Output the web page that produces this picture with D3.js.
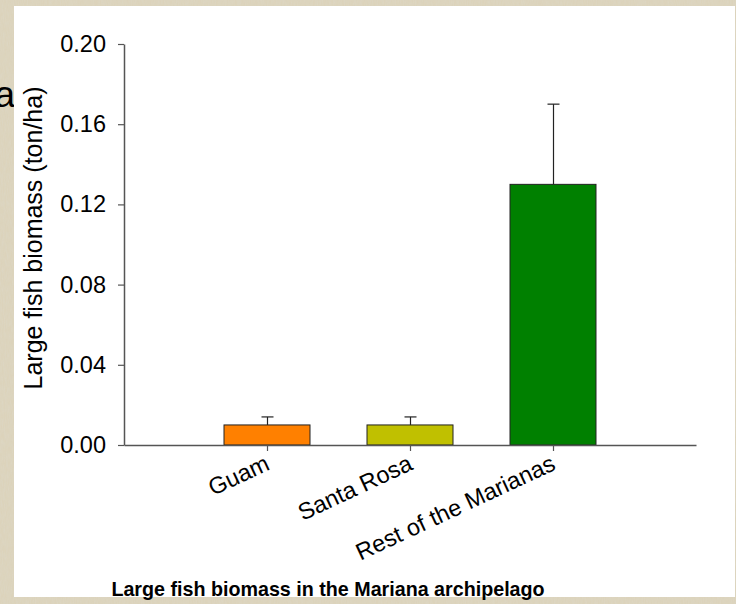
<!DOCTYPE html>
<html>
<head>
<meta charset="utf-8">
<script src="https://cdn.jsdelivr.net/npm/d3@7"></script>
<style>
  body { margin: 0; background: #d6ccb2; }
  text { font-family: "Liberation Sans", Arial, sans-serif; }
</style>
</head>
<body>
<div id="chart"></div>
<script>
const categories = ["Guam", "Santa Rosa", "Rest of the Marianas"];
const biomass = [0.010, 0.010, 0.130];
const errors = [0.004, 0.004, 0.040];
const barColors = ["#ff8000", "#c0c000", "#008000"];
const yTicks = [0, 0.04, 0.08, 0.12, 0.16, 0.20];

const W = 736, H = 604;
const plot = { left: 124, right: 696, top: 44, bottom: 445 };

const svg = d3.select("#chart").append("svg")
  .attr("width", W)
  .attr("height", H);

// textured paper border
const defs = svg.append("defs");
const filt = defs.append("filter").attr("id", "paper");
filt.append("feTurbulence")
  .attr("type", "fractalNoise")
  .attr("baseFrequency", "0.9 0.15")
  .attr("numOctaves", 2)
  .attr("seed", 3);
filt.append("feColorMatrix")
  .attr("values", "0 0 0 0 0.72  0 0 0 0 0.68  0 0 0 0 0.56  0 0 0 -1.6 1.2");

svg.append("rect").attr("width", W).attr("height", H).attr("fill", "#dcd3bb");
svg.append("rect").attr("width", W).attr("height", H).attr("filter", "url(#paper)").attr("opacity", 0.7);

// stray slide letter peeking out at the left
svg.append("text")
  .attr("x", 15)
  .attr("y", 107)
  .attr("text-anchor", "end")
  .style("font-size", "37px")
  .attr("fill", "#000")
  .text("a");

svg.append("rect")
  .attr("x", 14).attr("y", 6)
  .attr("width", 721).attr("height", 591)
  .attr("fill", "#fff");

const x = d3.scalePoint().domain(categories).range([plot.left, plot.right]).padding(1);
const y = d3.scaleLinear().domain([0, 0.2]).range([plot.bottom, plot.top]);
const barW = 86;

// bars
svg.selectAll(".bar")
  .data(categories)
  .join("rect")
  .attr("class", "bar")
  .attr("x", d => x(d) - barW / 2)
  .attr("y", (d, i) => y(biomass[i]))
  .attr("width", barW)
  .attr("height", (d, i) => y(0) - y(biomass[i]))
  .attr("fill", (d, i) => barColors[i])
  .attr("stroke", "#222")
  .attr("stroke-width", 1);

// error bars (upper only)
categories.forEach((c, i) => {
  const cx = Math.round(x(c)) + 0.5;
  const top = y(biomass[i] + errors[i]);
  svg.append("line")
    .attr("x1", cx).attr("x2", cx)
    .attr("y1", y(biomass[i])).attr("y2", top)
    .attr("stroke", "#222").attr("stroke-width", 1.2);
  svg.append("line")
    .attr("x1", cx - 6).attr("x2", cx + 6)
    .attr("y1", top).attr("y2", top)
    .attr("stroke", "#222").attr("stroke-width", 1.2);
});

// y axis
const yAxis = svg.append("g")
  .attr("transform", `translate(${plot.left},0)`)
  .call(d3.axisLeft(y).tickValues(yTicks).tickFormat(d3.format(".2f")).tickSize(6).tickSizeOuter(0).tickPadding(12));
yAxis.select(".domain").attr("stroke", "#555").attr("stroke-width", 1.5);
yAxis.selectAll(".tick line").attr("stroke", "#555").attr("stroke-width", 1.2);
yAxis.selectAll("text")
  .attr("fill", "#000")
  .style("font-size", "23.5px")
  .style("font-family", "'Liberation Sans', Arial, sans-serif");

// x axis
const xAxis = svg.append("g")
  .attr("transform", `translate(0,${plot.bottom})`)
  .call(d3.axisBottom(x).tickSize(6).tickSizeOuter(0).tickFormat(""));
xAxis.select(".domain").attr("stroke", "#555").attr("stroke-width", 1.5);
xAxis.selectAll(".tick line").attr("stroke", "#555").attr("stroke-width", 1.2);

svg.selectAll(".xlabel")
  .data(categories)
  .join("text")
  .attr("class", "xlabel")
  .attr("transform", d => `translate(${x(d) + 4},${plot.bottom + 24}) rotate(-25)`)
  .attr("text-anchor", "end")
  .style("font-size", "23.5px")
  .attr("fill", "#000")
  .text(d => d);

// y title
svg.append("text")
  .attr("transform", `translate(42,238) rotate(-90)`)
  .attr("text-anchor", "middle")
  .style("font-size", "25px")
  .attr("fill", "#000")
  .text("Large fish biomass (ton/ha)");

// chart title
svg.append("text")
  .attr("x", 328)
  .attr("y", 596)
  .attr("text-anchor", "middle")
  .style("font-size", "19.7px")
  .style("font-weight", "bold")
  .attr("fill", "#000")
  .text("Large fish biomass in the Mariana archipelago");
</script>
</body>
</html>
